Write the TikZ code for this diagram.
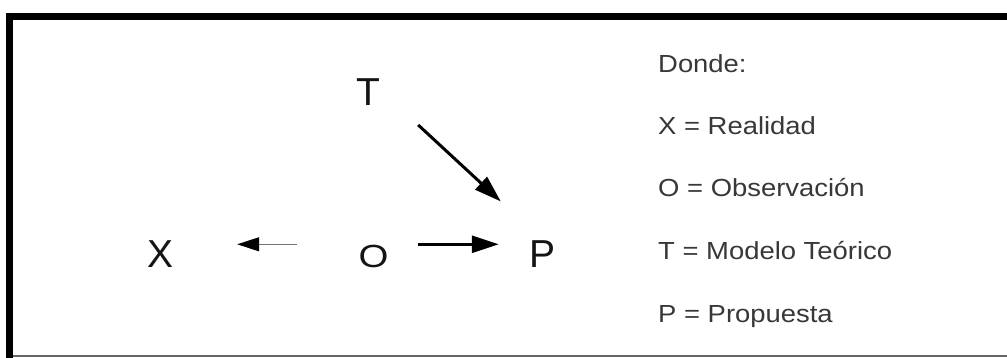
\documentclass[tikz,border=0pt]{standalone}
\usepackage{fontspec}
\setmainfont{Liberation Sans}
\newfontfamily\legendfont[FakeStretch=1.11]{Liberation Sans}
\newfontfamily\wideofont[FakeStretch=1.2]{Liberation Sans}
\usetikzlibrary{arrows.meta,positioning}

\begin{document}
\begin{tikzpicture}[
  x=1pt, y=-1pt,
  bigletter/.style={inner sep=0pt, text height=28pt, text depth=0pt, text=black!92,
    font=\fontsize{39}{39}\selectfont},
  legendline/.style={inner sep=0pt, anchor=base west, text=black!78,
    font=\legendfont\fontsize{24.7}{24.7}\selectfont},
  bigarrow/.style={line width=2.7pt, -{Triangle[length=27pt,width=17pt]}},
  thinarrow/.style={line width=1.1pt, draw=black!55, -{Triangle[length=22pt,width=14pt,color=black]}},
]
\useasboundingbox (0,0) rectangle (1007,358);
\fill[white] (0,0) rectangle (1007,358);
\fill[black] (6,12.7) rectangle (1007,19.7);
\fill[black] (6,12.7) rectangle (13.3,358);
\draw[black!60, line width=1.5pt] (13.3,356) -- (1007,356);

\node[bigletter, anchor=base, font=\wideofont\fontsize{32}{32}\selectfont] (O) at (373.5,268) {O};
\node[bigletter, left=212.5pt of O.base, anchor=base] (X) {X};
\node[bigletter, right=169.5pt of O.base, anchor=base] (P) {P};
\node[bigletter, anchor=base] (T) at (368,106) {T};

\draw[thinarrow, shorten <=61.5pt, shorten >=63pt]
  ([yshift=-4.5pt]O.north west) -- ([yshift=-4.5pt]O.north west -| X.east);
\draw[bigarrow, shorten <=29.5pt, shorten >=31pt]
  ([yshift=-4.5pt]O.north east) -- ([yshift=-4.5pt]O.north east -| P.west);
\draw[bigarrow, line width=3pt, shorten <=59.2pt, shorten >=66.6pt]
  ([xshift=6.7pt,yshift=7.3pt]T.center) -- ([xshift=6.7pt,yshift=7.3pt]P.center);

\node[legendline] (donde) at (658,73) {Donde:};
\node[legendline, below=62pt of donde.base west, anchor=base west] (legX) {X = Realidad};
\node[legendline, below=62pt of legX.base west, anchor=base west] (legO) {O = Observación};
\node[legendline, below=62pt of legO.base west, anchor=base west] (legT) {T = Modelo Teórico};
\node[legendline, below=63pt of legT.base west, anchor=base west] (legP) {P = Propuesta};
\end{tikzpicture}
\end{document}
